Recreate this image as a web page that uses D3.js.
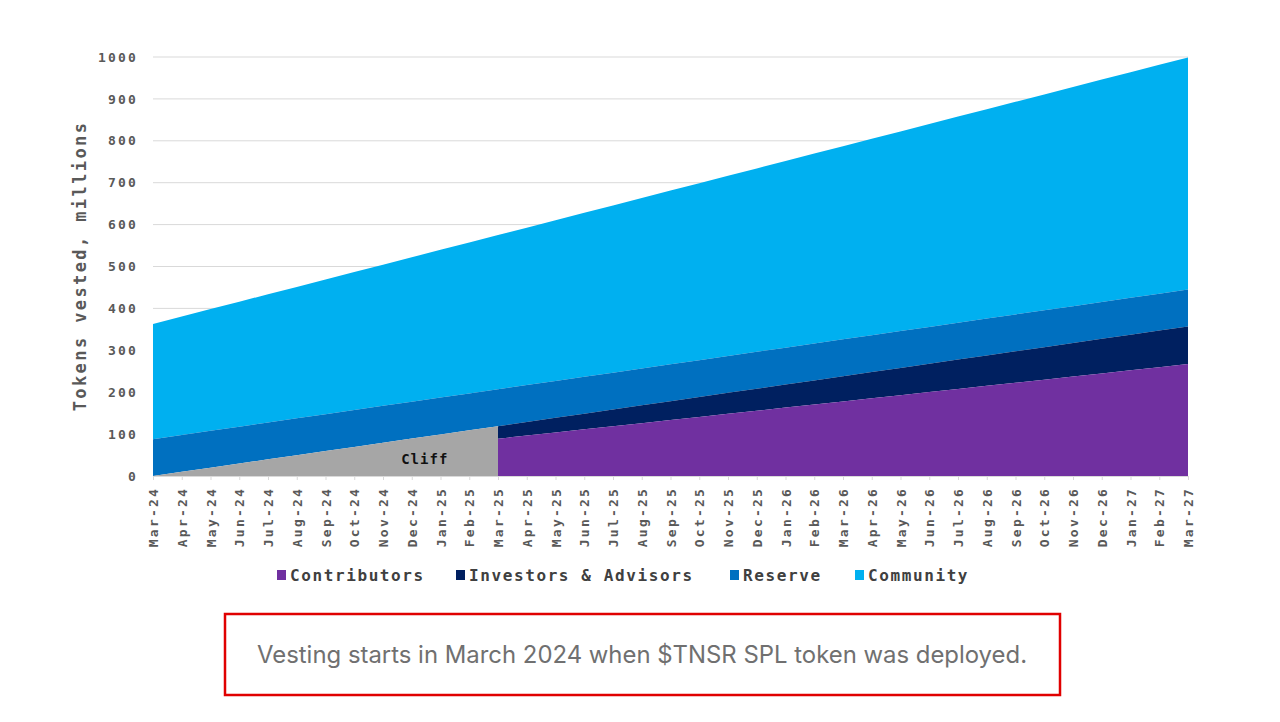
<!DOCTYPE html>
<html>
<head>
<meta charset="utf-8">
<script src="https://cdn.jsdelivr.net/npm/d3@7"></script>
<style>
  html, body { margin: 0; padding: 0; background: #fff; }
  svg { display: block; }
</style>
</head>
<body>
<svg id="chart" width="1280" height="722"></svg>
<script>
const months = ["Mar-24","Apr-24","May-24","Jun-24","Jul-24","Aug-24","Sep-24","Oct-24","Nov-24","Dec-24","Jan-25","Feb-25",
  "Mar-25","Apr-25","May-25","Jun-25","Jul-25","Aug-25","Sep-25","Oct-25","Nov-25","Dec-25","Jan-26","Feb-26",
  "Mar-26","Apr-26","May-26","Jun-26","Jul-26","Aug-26","Sep-26","Oct-26","Nov-26","Dec-26","Jan-27","Feb-27","Mar-27"];
const contributors = [0,7.4,14.8,22.3,29.7,37.1,44.5,51.9,59.4,66.8,74.2,81.6,89.0,96.5,103.9,111.3,118.7,126.1,133.6,141.0,
  148.4,155.8,163.2,170.7,178.1,185.5,192.9,200.3,207.8,215.2,222.6,230.0,237.4,244.9,252.3,259.7,267.1];
const investors = [0,2.5,5,7.5,10,12.5,15,17.5,20,22.5,25,27.5,30,32.5,35,37.5,40,42.5,45,47.5,50,52.5,55,57.5,60,62.5,65,67.5,
  70,72.5,75,77.5,80,82.5,85,87.5,90];
const reserve = [88,88,88,88,88,88,88,88,88,88,88,88,88,88,88,88,88,88,88,88,88,88,88,88,88,88,88,88,88,88,88,88,88,88,88,88,88];
const community = [275,282.75,290.5,298.25,306,313.75,321.5,329.25,337,344.75,352.5,360.25,368,375.75,383.5,391.25,399,406.75,
  414.5,422.25,430,437.75,445.5,453.25,461,468.75,476.5,484.25,492,499.75,507.5,515.25,523,530.75,538.5,546.25,554];
const cliffMonth = "Mar-25";
const yTicks = [0,100,200,300,400,500,600,700,800,900,1000];
const seriesNames = ["Contributors","Investors & Advisors","Reserve","Community"];
const colors = {"Contributors":"#7030a0","Investors & Advisors":"#002060","Reserve":"#0070c0","Community":"#00b0f0","Cliff":"#a6a6a6"};

const table = months.map((m,i) => ({month:m, "Contributors":contributors[i], "Investors & Advisors":investors[i],
  "Reserve":reserve[i], "Community":community[i]}));

const svg = d3.select("#chart");
const mLeft = 153, mRight = 1188, mTop = 57, mBottom = 476;
const x = d3.scalePoint().domain(months).range([mLeft, mRight]);
const y = d3.scaleLinear().domain([0, 1000]).range([mBottom, mTop]);
const mono = "'DejaVu Sans Mono', monospace";

// gridlines
svg.append("g").selectAll("line").data(yTicks.filter(d => d > 0)).join("line")
  .attr("x1", mLeft).attr("x2", mRight).attr("y1", d => y(d)).attr("y2", d => y(d))
  .attr("stroke", "#d9d9d9").attr("stroke-width", 1);

const stack = d3.stack().keys(seriesNames)(table);
const area = d3.area().x(d => x(d.data.month)).y0(d => y(d[0])).y1(d => y(d[1]));
const cliffIdx = months.indexOf(cliffMonth);

svg.append("path").datum(stack[3]).attr("d", area).attr("fill", colors["Community"]);
svg.append("path").datum(stack[2]).attr("d", area).attr("fill", colors["Reserve"]);
svg.append("path").datum(stack[1].slice(cliffIdx)).attr("d", area).attr("fill", colors["Investors & Advisors"]);
svg.append("path").datum(stack[0].slice(cliffIdx)).attr("d", area).attr("fill", colors["Contributors"]);
const cliffArea = d3.area().x(d => x(d.data.month)).y0(y(0)).y1(d => y(d[1]));
svg.append("path").datum(stack[1].slice(0, cliffIdx + 1)).attr("d", cliffArea).attr("fill", colors["Cliff"]);
svg.append("text").attr("x", x(months[9]) + 13).attr("y", 464)
  .attr("text-anchor", "middle").attr("font-family", mono).attr("font-weight", "bold")
  .attr("font-size", 14).attr("letter-spacing", 1).attr("fill", "#111").text("Cliff");

// y axis
const yAxis = svg.append("g").attr("transform", `translate(${mLeft},0)`)
  .call(d3.axisLeft(y).tickValues(yTicks).tickFormat(d3.format("d")).tickSize(0).tickPadding(15));
yAxis.select(".domain").remove();
yAxis.selectAll("text").attr("font-family", mono).attr("font-weight", "bold").attr("font-size", 13)
  .attr("letter-spacing", 2.2).attr("fill", "#595959");

// x axis
const xAxis = svg.append("g").attr("transform", `translate(0,${mBottom})`)
  .call(d3.axisBottom(x).tickSize(4).tickPadding(8));
xAxis.select(".domain").attr("stroke", "#d9d9d9");
xAxis.selectAll(".tick line").attr("stroke", "#d9d9d9");
xAxis.selectAll("text").attr("font-family", mono).attr("font-weight", "bold").attr("font-size", 13)
  .attr("letter-spacing", 2.2).attr("fill", "#595959")
  .attr("transform", "rotate(-90)").attr("text-anchor", "end").attr("dy", "0.35em")
  .attr("x", -11).attr("y", 0);

// y title
svg.append("text").attr("transform", `translate(86,266) rotate(-90)`).attr("text-anchor", "middle")
  .attr("font-family", mono).attr("font-weight", "bold").attr("font-size", 17).attr("letter-spacing", 2.4)
  .attr("fill", "#595959").text("Tokens vested, millions");

// legend
const legendX = [277, 456, 730, 855];
const lg = svg.append("g").selectAll("g").data(seriesNames).join("g")
  .attr("transform", (d,i) => `translate(${legendX[i]},575)`);
lg.append("rect").attr("x", 0).attr("y", -5).attr("width", 9).attr("height", 10).attr("fill", d => colors[d]);
lg.append("text").attr("x", 13).attr("y", 0).attr("dy", "0.35em").attr("font-family", mono).attr("font-weight", "bold")
  .attr("font-size", 16).attr("letter-spacing", 1.6).attr("fill", "#404040").text(d => d);

// caption box
svg.append("rect").attr("x", 225).attr("y", 614).attr("width", 835).attr("height", 81)
  .attr("fill", "none").attr("stroke", "#e00000").attr("stroke-width", 2.5);
svg.append("text").attr("x", 642).attr("y", 655).attr("dy", "0.35em").attr("text-anchor", "middle")
  .attr("font-family", "Inter, 'Noto Sans', sans-serif").attr("font-size", 23.9).attr("fill", "#707070")
  .text("Vesting starts in March 2024 when $TNSR SPL token was deployed.");
</script>
</body>
</html>
